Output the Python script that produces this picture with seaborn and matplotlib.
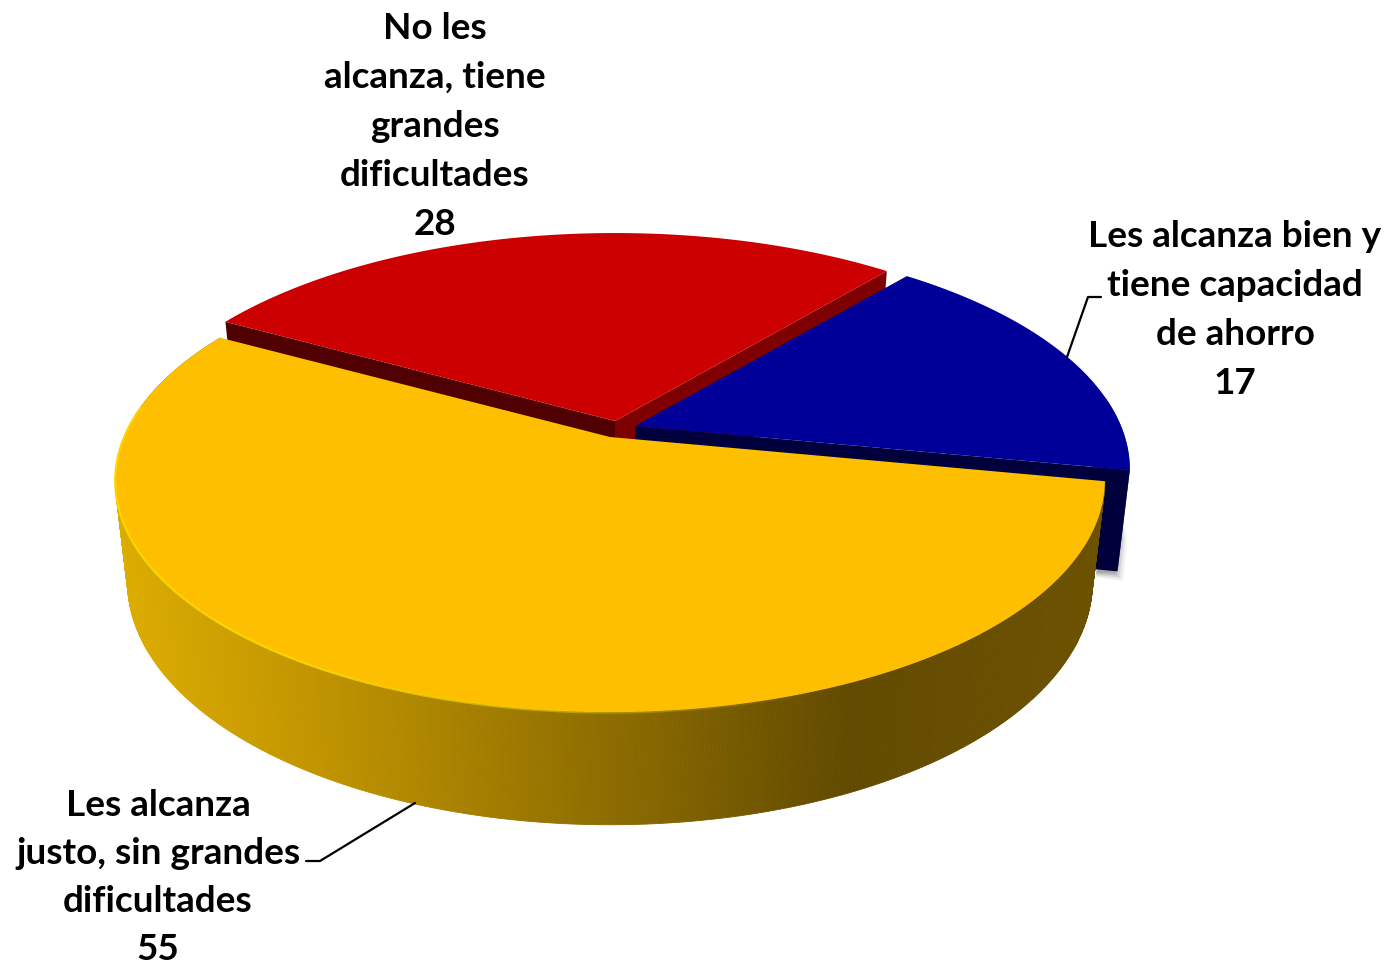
import numpy as np
import matplotlib
matplotlib.use("Agg")
import matplotlib.pyplot as plt
import seaborn as sns

# ---- data ----
categories = ["Les alcanza justo, sin grandes dificultades",
              "Les alcanza bien y tiene capacidad de ahorro",
              "No les alcanza, tiene grandes dificultades"]
values = [55, 17, 28]
label_lines = [["Les alcanza", "justo, sin grandes", "dificultades"],
               ["Les alcanza bien y", "tiene capacidad", "de ahorro"],
               ["No les", "alcanza, tiene", "grandes", "dificultades"]]

# ---- style ----
sns.set_theme(style="white")
plt.rcParams["font.family"] = ["Lato", "DejaVu Sans"]
top_colors = sns.color_palette(["#FDBF00", "#000099", "#CC0000"])
cut_colors = ["#6B5000", "#00003C", "#7F0000"]
red_left_cut = "#500000"
explode = [(0, 0), (25, -11), (5, -16)]
label_base = [(158, 816), (1235, 247), (435, 39)]
label_step = [48, 49, 49]
cx, cy, a, b, k = 610, 437, 486, 223.3, 0.188
sx, sy, d0 = 0.975, 1.05, 99
start_deg = 151
grad_x = [120, 300, 600, 850, 1100]
grad_c = ["#DCAC00", "#C39600", "#8F6E00", "#624A00", "#6C5100"]


def project(theta, r=1.0):
    u, v = r * np.cos(theta), r * np.sin(theta)
    s = 1 / (1 + k * v)
    return cx + a * u * s, cy - b * v * s


def lower(x, y):
    return cx + sx * (x - cx), cy + d0 + sy * (y - cy)


spans = np.deg2rad(np.array(values) / sum(values) * 360)
starts = np.deg2rad(start_deg) + np.concatenate([[0], np.cumsum(spans)[:-1]])

fig = plt.figure(figsize=(13.88, 9.68), dpi=100)
ax = fig.add_axes([0, 0, 1, 1])
ax.set_xlim(0, 1388)
ax.set_ylim(968, 0)
ax.axis("off")


def wedge_arc(i, n=200):
    th = np.linspace(starts[i], starts[i] + spans[i], n)
    x, y = project(th)
    return th, x + explode[i][0], y + explode[i][1]


def apex(i):
    return cx + explode[i][0], cy + explode[i][1]


def cut_face(x0, y0, x1, y1, color, z):
    ox, oy = explode_now
    bx0, by0 = lower(x0 - ox, y0 - oy)
    bx1, by1 = lower(x1 - ox, y1 - oy)
    ax.fill([x0, x1, bx1 + ox, bx0 + ox], [y0, y1, by1 + oy, by0 + oy],
            color=color, lw=0, zorder=z)


# red wedge: two cut faces, then top
i = 2
explode_now = explode[i]
th, x, y = wedge_arc(i)
ax0, ay0 = apex(i)
cut_face(x[0], y[0], ax0, ay0, "#7F0000", 1)
cut_face(x[-1], y[-1], ax0, ay0, red_left_cut, 1)
ax.fill(np.r_[ax0, x], np.r_[ay0, y], color=top_colors[i], lw=0, zorder=2)

# blue wedge: soft shadow, sides, top
i = 1
explode_now = explode[i]
th, x, y = wedge_arc(i)
ax0, ay0 = apex(i)
bx, by = lower(x[0] - explode_now[0], y[0] - explode_now[1])
bx, by = bx + explode_now[0], by + explode_now[1]
for w, al in zip([10, 8, 6, 4, 2], [0.05, 0.08, 0.12, 0.16, 0.2]):
    ax.fill([bx, bx + 4, bx + w, bx + w - 4, bx - 22],
            [by - 60, by - 60, by - 30, by + w, by + w * 0.6],
            color="0.3", alpha=al, lw=0, zorder=2.5)
cut_face(x[0], y[0], ax0, ay0, cut_colors[i], 3)
for j in range(0, 60):
    cut_face(x[j], y[j], x[j + 1], y[j + 1], cut_colors[i], 3)
ax.fill(np.r_[ax0, x], np.r_[ay0, y], color=top_colors[i], lw=0, zorder=4)

# yellow wedge: gradient side, top, rim highlight
i = 0
explode_now = explode[i]
th, x, y = wedge_arc(i, 500)
ax0, ay0 = apex(i)
rgb = np.array([matplotlib.colors.to_rgb(c) for c in grad_c])
for j in range(len(x) - 1):
    xm = (x[j] + x[j + 1]) / 2
    col = [np.interp(xm, grad_x, rgb[:, c]) for c in range(3)]
    bx0, by0 = lower(x[j], y[j])
    bx1, by1 = lower(x[j + 1], y[j + 1])
    ax.fill([x[j], x[j + 1], bx1, bx0], [y[j], y[j + 1], by1, by0],
            facecolor=col, edgecolor=col, lw=0.6, zorder=5)
ax.fill(np.r_[ax0, x], np.r_[ay0, y], color=top_colors[i], lw=0, zorder=6)
rim = np.where(th > np.deg2rad(172))[0]
for j in rim[:-1]:
    fade = np.clip((820 - x[j]) / 500, 0, 1) * 0.85
    if fade > 0:
        ax.plot(x[j:j + 2], y[j:j + 2] + 0.5, color="#FFDD00", lw=1.6,
                alpha=fade, solid_capstyle="butt", zorder=7)

# leader lines
ax.plot([415, 320, 306], [803, 861, 861], color="black", lw=1.6, zorder=8)
ax.plot([1067, 1088, 1101], [357, 297, 297], color="black", lw=1.6, zorder=8)

# labels
for lines, val, (lx, ly), step in zip(label_lines, values, label_base, label_step):
    for n, t in enumerate(lines + [str(val)]):
        ax.text(lx, ly + n * step, t, ha="center", va="baseline", fontsize=26.6,
                fontweight="bold", color="black", zorder=9)

fig.savefig("out.png", dpi=100, facecolor="white")
